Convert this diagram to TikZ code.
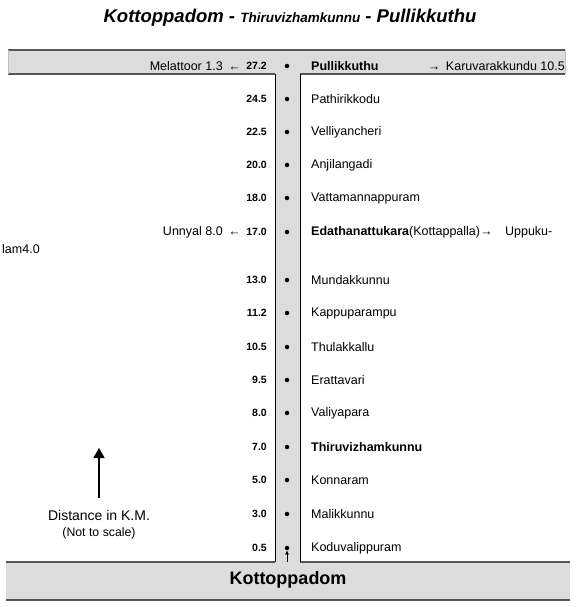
\documentclass[tikz,border=0pt]{standalone}
\usepackage{fontspec}
\setmainfont{Liberation Sans}
\usepackage{tikz}
\usetikzlibrary{positioning,arrows.meta}

\definecolor{roadfill}{RGB}{220,220,220}
\definecolor{roadline}{RGB}{85,85,85}

\begin{document}
\begin{tikzpicture}[
    x=1pt, y=-1pt,
    >=Latex,
    km/.style={anchor=east, inner sep=0pt, font=\fontsize{10.5}{12}\selectfont\bfseries},
    stop/.style={anchor=west, inner sep=0pt, font=\fontsize{12.5}{14}\selectfont},
    bigstop/.style={stop, font=\fontsize{12.5}{14}\selectfont\bfseries},
    side/.style={inner sep=0pt, font=\fontsize{12.5}{14}\selectfont},
    halt/.style={circle, fill=black, minimum size=4.5pt, inner sep=0pt},
    edge/.style={draw=roadline, line width=1.3pt},
    rim/.style={draw=black, line width=0.8pt},
  ]
    \useasboundingbox (0,0) rectangle (575,607);

    % ---------- title ----------
    \node[inner sep=0pt, font=\fontsize{18.5}{20}\selectfont\bfseries\itshape] (title) at (290,18)
      {Kottoppadom - {\fontsize{13.5}{15}\selectfont Thiruvizhamkunnu} - Pullikkuthu};

    % ---------- road ----------
    \fill[roadfill] (8,50) rectangle (565,74);
    \fill[roadfill] (275,74) rectangle (300,562);
    \fill[roadfill] (6,562) rectangle (570,600);
    \draw[edge] (8,50) -- (565,50);
    \draw[edge] (8,74) -- (275,74);
    \draw[edge] (300,74) -- (565,74);
    \draw[edge] (6,562) -- (275,562);
    \draw[edge] (300,562) -- (570,562);
    \draw[edge] (6,600) -- (570,600);
    \draw[rim] (275,74) -- (275,562);
    \draw[rim] (300,74) -- (300,562);
    \draw[black!25, line width=0.6pt] (8,50) -- (8,74) (565,50) -- (565,74);

    % ---------- terminus ----------
    \node[halt] (d272) at (287,66) {};
    \node[km] (k272) at (267,66) {27.2};
    \node[bigstop] (p272) at (311,66) {Pullikkuthu};
    \node[side, anchor=east] (west272) at (241,66) {Melattoor 1.3 \,←};
    \node[side, anchor=east] (east272) at (565,66) {→\, Karuvarakkundu 10.5};

    % ---------- stops ----------
    \foreach \y/\d/\place/\id in {99/24.5/Pathirikkodu/245, 132/22.5/Velliyancheri/225,
        165/20.0/Anjilangadi/200, 198/18.0/Vattamannappuram/180,
        280/13.0/Mundakkunnu/130, 313/11.2/Kappuparampu/112,
        347/10.5/Thulakkallu/105, 380/9.5/Erattavari/95,
        413/8.0/Valiyapara/80, 480/5.0/Konnaram/50,
        514/3.0/Malikkunnu/30, 548/0.5/Koduvalippuram/05} {
      \node[halt] (d\id) at (287,\y) {};
      \node[km] (k\id) at (267,\y) {\d};
      \node[stop] (p\id) at (311,\y) {\place};
    }

    \node[halt] (d170) at (287,232) {};
    \node[km] (k170) at (267,232) {17.0};
    \node[stop] (p170) at (311,232) {\textbf{Edathanattukara}(Kottappalla)→\quad Uppuku-};
    \node[side, anchor=west] (p170b) at (2,249) {lam4.0};
    \node[side, anchor=east] (west170) at (241,232) {Unnyal 8.0 \,←};

    \node[halt] (d70) at (287,447) {};
    \node[km] (k70) at (267,447) {7.0};
    \node[bigstop] (p70) at (311,447) {Thiruvizhamkunnu};

    % ---------- start ----------
    \node[inner sep=0pt, font=\fontsize{18}{20}\selectfont\bfseries] (start) at (288,580) {Kottoppadom};
    \coordinate (gate) at (287,562);
    \draw[-{Latex[length=4pt,width=4pt]}, line width=0.6pt] (gate) -- (d05.south);

    % ---------- legend ----------
    \node[inner sep=0pt, font=\fontsize{14}{16}\selectfont] (dist) at (99,515) {Distance in K.M.};
    \node[inner sep=0pt, font=\fontsize{12.3}{14}\selectfont, below=7pt of dist] (scale) {(Not to scale)};
    \coordinate (tip) at (99,448);
    \draw[-{Triangle[length=10pt,width=11pt]}, line width=1.5pt] ([yshift=12pt]dist.north) -- (tip);
  \end{tikzpicture}
\end{document}
